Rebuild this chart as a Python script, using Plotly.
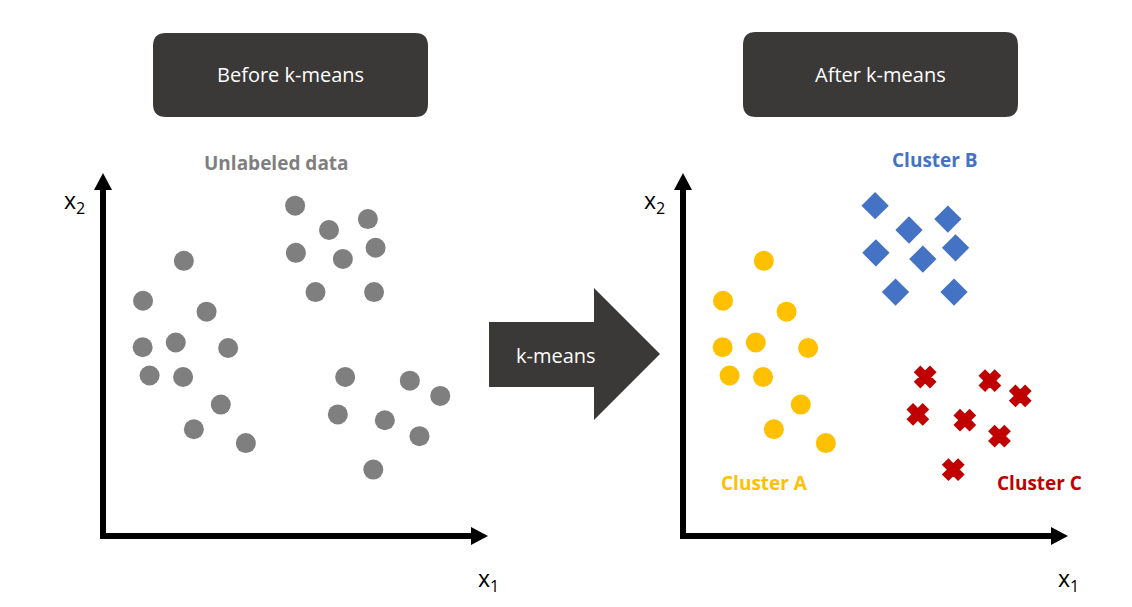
import plotly.graph_objects as go

# ---------------- data (x1, x2 in axis units 0..10) ----------------
cluster_a_x1 = [2.10, 1.04, 2.69, 1.03, 1.89, 3.25, 1.21, 2.08, 3.06, 2.36, 3.71]
cluster_a_x2 = [7.58, 6.48, 6.18, 5.20, 5.33, 5.18, 4.42, 4.38, 3.62, 2.94, 2.56]
cluster_b_x1 = [4.99, 5.87, 6.88, 5.01, 6.23, 7.08, 5.52, 7.04]
cluster_b_x2 = [9.10, 8.43, 8.73, 7.80, 7.63, 7.94, 6.72, 6.72]
cluster_c_x1 = [6.29, 7.97, 8.76, 6.10, 7.32, 8.22, 7.02]
cluster_c_x2 = [4.38, 4.28, 3.86, 3.35, 3.19, 2.75, 1.83]

cluster_names = ["Cluster A", "Cluster B", "Cluster C"]
panel_titles = ["Before k-means", "After k-means"]
arrow_label = "k-means"
unlabeled_label = "Unlabeled data"

W, H = 1132, 607
FONT = "Open Sans"
BOX = "#3b3838"
GRAY = "#7f7f7f"
YELLOW = "#ffc000"
BLUE = "#4472c4"
RED = "#c00000"


def px(x):
    return x / W


def py(y):
    return 1 - y / H


fig = go.Figure()

# left panel: all points unlabeled (gray)
all_x1 = cluster_a_x1 + cluster_b_x1 + cluster_c_x1
all_x2 = cluster_a_x2 + cluster_b_x2 + cluster_c_x2
fig.add_trace(go.Scatter(x=all_x1, y=all_x2, mode="markers", xaxis="x", yaxis="y",
                         marker=dict(symbol="circle", size=20, color=GRAY, line=dict(width=0)),
                         showlegend=False, hoverinfo="skip"))

# right panel: clustered
fig.add_trace(go.Scatter(x=cluster_a_x1, y=cluster_a_x2, mode="markers", xaxis="x2", yaxis="y2",
                         marker=dict(symbol="circle", size=20, color=YELLOW, line=dict(width=0)),
                         name=cluster_names[0], showlegend=False, hoverinfo="skip"))
fig.add_trace(go.Scatter(x=cluster_b_x1, y=cluster_b_x2, mode="markers", xaxis="x2", yaxis="y2",
                         marker=dict(symbol="diamond", size=21, color=BLUE, line=dict(width=0)),
                         name=cluster_names[1], showlegend=False, hoverinfo="skip"))
fig.add_trace(go.Scatter(x=cluster_c_x1, y=cluster_c_x2, mode="markers", xaxis="x2", yaxis="y2",
                         marker=dict(symbol="x", size=17, color=RED, line=dict(width=2.5, color=RED)),
                         name=cluster_names[2], showlegend=False, hoverinfo="skip"))

hidden = dict(visible=False, range=[0, 10], fixedrange=True)
ydom = [py(536), py(173)]
fig.update_layout(
    xaxis=dict(domain=[px(103), px(488)], anchor="y", **hidden),
    yaxis=dict(domain=ydom, anchor="x", **hidden),
    xaxis2=dict(domain=[px(683), px(1068)], anchor="y2", **hidden),
    yaxis2=dict(domain=ydom, anchor="x2", **hidden),
)

shapes = []


def rounded_rect(x0, y0, x1, y1, r, color):
    rx, ry = r / W, r / H
    X0, X1 = px(x0), px(x1)
    Y0, Y1 = py(y0), py(y1)  # Y0 top (larger), Y1 bottom
    path = (f"M{X0+rx},{Y0} L{X1-rx},{Y0} Q{X1},{Y0} {X1},{Y0-ry} "
            f"L{X1},{Y1+ry} Q{X1},{Y1} {X1-rx},{Y1} L{X0+rx},{Y1} "
            f"Q{X0},{Y1} {X0},{Y1+ry} L{X0},{Y0-ry} Q{X0},{Y0} {X0+rx},{Y0} Z")
    return dict(type="path", xref="paper", yref="paper", path=path,
                fillcolor=color, line=dict(width=0), layer="below")


def poly(points, color):
    path = "M" + " L".join(f"{px(x)},{py(y)}" for x, y in points) + " Z"
    return dict(type="path", xref="paper", yref="paper", path=path,
                fillcolor=color, line=dict(width=0), layer="below")


# title boxes
shapes.append(rounded_rect(153, 33, 428, 117, 13, BOX))
shapes.append(rounded_rect(743, 32, 1018, 117, 13, BOX))

# big arrow
shapes.append(poly([(489, 322), (594, 322), (594, 288), (660, 354),
                    (594, 420), (594, 387), (489, 387)], BOX))

# axis arrows for both panels
for dx in (0, 580):
    shapes.append(poly([(100 + dx, 539), (100 + dx, 189), (106 + dx, 189), (106 + dx, 539)], "black"))
    shapes.append(poly([(94 + dx, 190), (103 + dx, 173), (112 + dx, 190)], "black"))
    shapes.append(poly([(100 + dx, 533), (472 + dx, 533), (472 + dx, 539), (100 + dx, 539)], "black"))
    shapes.append(poly([(471 + dx, 527), (488 + dx, 536), (471 + dx, 545)], "black"))

annotations = []


def label(text, x, y, size, color, bold=False):
    t = f"<b>{text}</b>" if bold else text
    annotations.append(dict(text=t, x=px(x), y=py(y), xref="paper", yref="paper",
                            xanchor="center", yanchor="middle", showarrow=False,
                            font=dict(family=FONT, size=size, color=color)))


label(panel_titles[0], 290.5, 74.5, 20, "white")
label(panel_titles[1], 880.5, 74.5, 20, "white")
label(arrow_label, 556, 355.5, 20, "white")
label(unlabeled_label, 276.5, 163, 19, GRAY, bold=True)
label(cluster_names[1], 935, 160, 19, BLUE, bold=True)
label(cluster_names[0], 764.5, 483, 19, YELLOW, bold=True)
label(cluster_names[2], 1039, 483, 19, RED, bold=True)
for dx in (0, 580):
    label("x<sub>2</sub>", 74.5 + dx, 202, 23, "black")
    label("x<sub>1</sub>", 488.5 + dx, 579, 23, "black")

fig.update_layout(
    width=W, height=H, autosize=False,
    margin=dict(l=0, r=0, t=0, b=0, pad=0),
    paper_bgcolor="white", plot_bgcolor="rgba(0,0,0,0)",
    shapes=shapes, annotations=annotations,
    showlegend=False,
    font=dict(family=FONT),
)

fig.write_html("out.html", config={"displayModeBar": False})
